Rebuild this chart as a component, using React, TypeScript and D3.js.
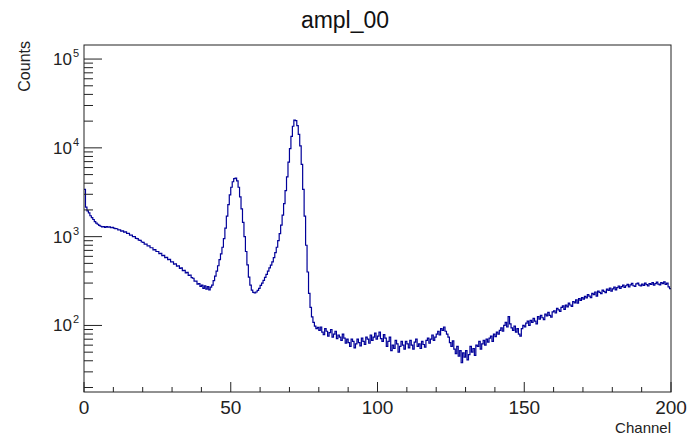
import React from "react";
import * as d3 from "d3";

// Histogram "ampl_00": bin width 0.5 channel, 400 bins from 0 to 200
const binWidth = 0.5;
const counts: number[] = [
  // 0 - 9.5
  3400, 2150, 1950, 1850, 1720, 1640, 1560, 1480, 1420, 1380, 1340, 1310, 1290, 1300, 1270, 1300, 1280, 1290, 1260, 1270,
  // 10 - 19.5
  1250, 1230, 1228, 1190, 1194, 1155, 1160, 1125, 1130, 1090, 1090, 1040, 1040, 1000, 1000, 955, 950, 915, 910, 870,
  // 20 - 29.5
  860, 825, 824, 785, 786, 750, 750, 710, 716, 680, 680, 645, 650, 610, 615, 580, 585, 550, 555, 520,
  // 30 - 39.5
  520, 490, 495, 465, 470, 440, 445, 415, 418, 390, 395, 366, 370, 345, 340, 316, 315, 292, 296, 276,
  // 40 - 49.5
  284, 262, 280, 256, 274, 252, 270, 285, 320, 360, 410, 470, 550, 640, 760, 950, 1250, 1700, 2300, 2950,
  // 50 - 59.5
  3600, 4150, 4500, 4550, 4250, 3600, 2800, 2050, 1450, 1000, 680, 480, 350, 285, 250, 236, 232, 238, 248, 262,
  // 60 - 69.5
  282, 300, 322, 348, 375, 410, 445, 478, 520, 580, 660, 760, 900, 1080, 1350, 1750, 2350, 3300, 4700, 6900,
  // 70 - 79.5
  9800, 13500, 17500, 20500, 20300, 17800, 14200, 10500, 6500, 3400, 1700, 800, 400, 230, 160, 125, 108, 98, 92, 95,
  // 80 - 89.5
  88, 96, 84, 79, 92, 86, 76, 83, 90, 74, 80, 86, 71, 78, 74, 68, 80, 72, 63, 70,
  // 90 - 99.5
  64, 58, 70, 66, 56, 62, 70, 64, 59, 72, 66, 61, 74, 70, 63, 78, 68, 74, 82, 70,
  // 100 - 109.5
  76, 84, 71, 66, 79, 72, 58, 66, 74, 52, 60, 55, 68, 62, 50, 58, 66, 60, 54, 66,
  // 110 - 119.5
  62, 56, 68, 60, 54, 65, 70, 58, 62, 55, 66, 61, 57, 68, 72, 63, 70, 78, 68, 74,
  // 120 - 129.5
  80, 86, 78, 92, 88, 96, 86, 80, 74, 64, 58, 67, 54, 48, 58, 45, 52, 38, 49, 44,
  // 130 - 139.5
  52, 41, 47, 58, 50, 55, 46, 60, 58, 66, 54, 62, 68, 60, 70, 65, 72, 76, 66, 80,
  // 140 - 149.5
  75, 84, 80, 88, 94, 86, 100, 108, 96, 126, 104, 94, 88, 98, 84, 92, 80, 76, 92, 100,
  // 150 - 159.5
  96, 106, 112, 100, 114, 108, 120, 112, 104, 126, 118, 130, 122, 116, 134, 128, 140, 130, 124, 142,
  // 160 - 169.5
  146, 138, 156, 150, 144, 160, 166, 152, 170, 162, 178, 170, 164, 186, 180, 194, 178, 200, 192, 206,
  // 170 - 179.5
  198, 212, 204, 222, 214, 206, 230, 222, 238, 214, 244, 236, 228, 250, 242, 234, 256, 248, 264, 244,
  // 180 - 189.5
  258, 270, 252, 266, 278, 262, 274, 284, 268, 280, 290, 272, 286, 298, 280, 276, 294, 300, 284, 278,
  // 190 - 199.5
  292, 282, 300, 288, 278, 296, 290, 304, 284, 296, 308, 292, 286, 304, 296, 310, 290, 300, 272, 260,
];

const xTickValues = [0, 50, 100, 150, 200];
const xMinorValues = [10, 20, 30, 40, 60, 70, 80, 90, 110, 120, 130, 140, 160, 170, 180, 190];
const yDecades = [2, 3, 4, 5];
const title = "ampl_00";
const xTitle = "Channel";
const yTitle = "Counts";

const W = 692;
const H = 441;
const left = 84;
const right = 671;
const top = 45;
const bottom = 392;

export default function App() {
  const x = d3.scaleLinear().domain([0, 200]).range([left, right]);
  const y = d3.scaleLog().domain([17.8, 1.44e5]).range([bottom, top]);

  // step path
  let d = "";
  counts.forEach((c, i) => {
    const x0 = x(i * binWidth);
    const x1 = x((i + 1) * binWidth);
    const yy = y(c);
    d += (i === 0 ? `M${x0},${yy}` : `L${x0},${yy}`) + `L${x1},${yy}`;
  });

  const [ymin, ymax] = y.domain();
  const minorY: number[] = [];
  for (let e = 1; e <= 5; e++) {
    for (let m = 2; m <= 9; m++) {
      const v = m * Math.pow(10, e);
      if (v >= ymin && v <= ymax) minorY.push(v);
    }
  }

  const font = "'Liberation Sans', Arial, Helvetica, sans-serif";
  const majorYLen = 18;
  const minorYLen = 9;
  const majorXLen = 10;
  const minorXLen = 5;

  return (
    <svg
      width={W}
      height={H}
      style={{ position: "absolute", left: 0, top: 0, background: "#fff" }}
      fontFamily={font}
    >
      <rect x={0} y={0} width={W} height={H} fill="#fff" />
      <text x={345} y={28} textAnchor="middle" fontSize={23} fill="#111">
        {title}
      </text>
      <path d={d} fill="none" stroke="#000099" strokeWidth={1.2} />
      <rect x={left} y={top} width={right - left} height={bottom - top} fill="none" stroke="#222" strokeWidth={1} />
      {/* y ticks */}
      {yDecades.map((e) => (
        <g key={"yd" + e}>
          <line x1={left} x2={left + majorYLen} y1={y(Math.pow(10, e))} y2={y(Math.pow(10, e))} stroke="#222" />
          <text x={left - 12} y={y(Math.pow(10, e)) + 6} textAnchor="end" fontSize={17} fill="#222">
            10
          </text>
          <text x={left - 11} y={y(Math.pow(10, e)) - 2} textAnchor="start" fontSize={11} fill="#222">
            {e}
          </text>
        </g>
      ))}
      {minorY.map((v, i) => (
        <line key={"ym" + i} x1={left} x2={left + minorYLen} y1={y(v)} y2={y(v)} stroke="#222" />
      ))}
      {/* x ticks */}
      {xTickValues.map((v) => (
        <g key={"xt" + v}>
          <line x1={x(v)} x2={x(v)} y1={bottom} y2={bottom - majorXLen} stroke="#222" />
          <text x={x(v)} y={bottom + 22} textAnchor="middle" fontSize={19} fill="#222">
            {v}
          </text>
        </g>
      ))}
      {xMinorValues.map((v) => (
        <line key={"xm" + v} x1={x(v)} x2={x(v)} y1={bottom} y2={bottom - minorXLen} stroke="#222" />
      ))}
      <text x={right} y={433} textAnchor="end" fontSize={15} fill="#222">
        {xTitle}
      </text>
      <text transform={`translate(30,${top - 4}) rotate(-90)`} textAnchor="end" fontSize={16} fill="#222">
        {yTitle}
      </text>
    </svg>
  );
}
